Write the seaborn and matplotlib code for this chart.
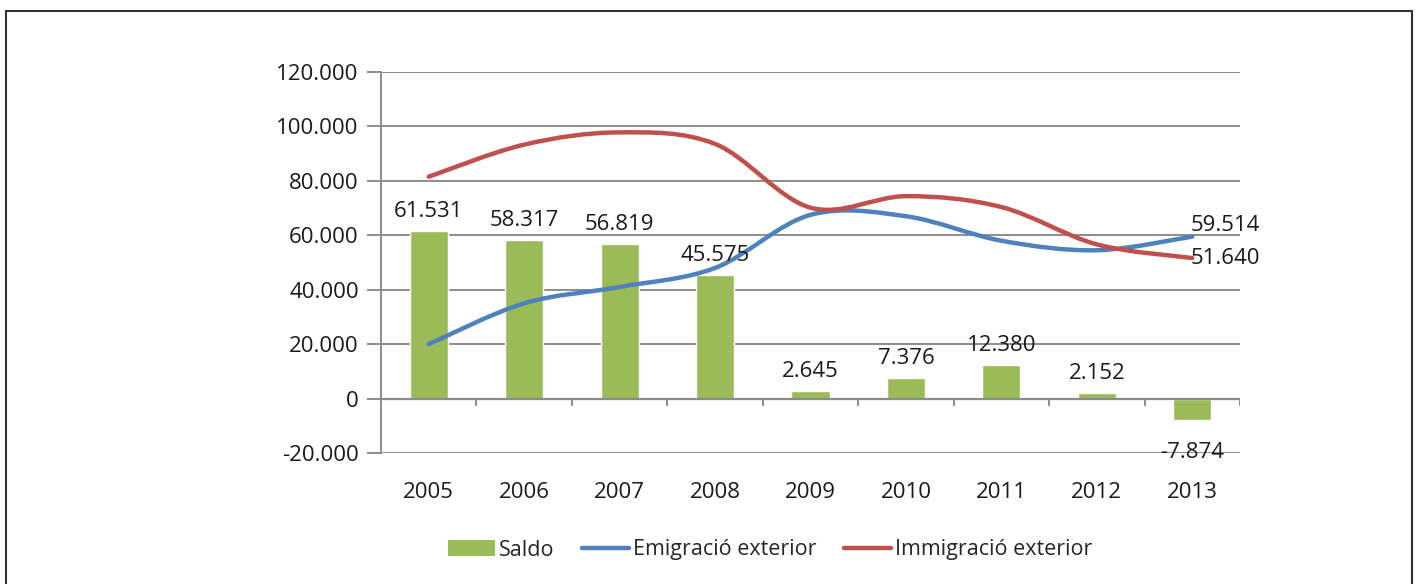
import numpy as np
import pandas as pd
import matplotlib
matplotlib.use("Agg")
import matplotlib.pyplot as plt
import seaborn as sns
from matplotlib.path import Path
from matplotlib.patches import PathPatch, Rectangle, Patch
from matplotlib.lines import Line2D
from matplotlib import font_manager

years = ["2005", "2006", "2007", "2008", "2009", "2010", "2011", "2012", "2013"]
saldo = [61531, 58317, 56819, 45575, 2645, 7376, 12380, 2152, -7874]
emigracio = [20000, 35000, 41000, 48000, 67500, 67000, 58000, 54500, 59514]
immigracio = [81531, 93317, 97819, 93575, 70145, 74376, 70380, 56652, 51640]
yticks = [-20000, 0, 20000, 40000, 60000, 80000, 100000, 120000]

GREEN = "#9BBB59"
BLUE = "#4F81BD"
RED = "#C0504D"
GRID = "#8C8C8C"

sns.set_theme(style="white")
names = {f.name for f in font_manager.fontManager.ttflist}
fam = "Liberation Sans Narrow" if "Liberation Sans Narrow" in names else "Open Sans"
plt.rcParams["font.family"] = [fam, "DejaVu Sans"]

def fmt(v):
    s = f"{abs(v):,}".replace(",", ".")
    return ("-" if v < 0 else "") + s

fig = plt.figure(figsize=(14.16, 5.84), dpi=100)
ax = fig.add_axes([381/1416, 1-453/584, (1240-381)/1416, (453-72)/584])

df = pd.DataFrame({"year": years, "saldo": saldo})
sns.barplot(data=df, x="year", y="saldo", color=GREEN, saturation=1, width=0.4, ax=ax, zorder=3)

def smooth_path(xs, ys):
    pts = np.column_stack([xs, ys]).astype(float)
    n = len(pts)
    verts = [pts[0]]
    codes = [Path.MOVETO]
    for i in range(n-1):
        p0 = pts[i-1] if i > 0 else pts[i]
        p1 = pts[i]
        p2 = pts[i+1]
        p3 = pts[i+2] if i+2 < n else pts[i+1]
        c1 = p1 + (p2 - p0) / 6.0
        c2 = p2 - (p3 - p1) / 6.0
        verts += [c1, c2, p2]
        codes += [Path.CURVE4]*3
    return Path(verts, codes)

xpos = np.arange(len(years))
for vals, col in [(emigracio, BLUE), (immigracio, RED)]:
    pp = PathPatch(smooth_path(xpos, vals), facecolor="none", edgecolor=col, lw=3.2,
                   capstyle="round", zorder=4)
    ax.add_patch(pp)

ax.set_xlim(-0.5, len(years)-0.5)
ax.set_ylim(-20000, 120000)
ax.set_yticks(yticks)
ax.set_yticklabels([fmt(v) for v in yticks], fontsize=16, color="#1a1a1a")
for v in yticks:
    ax.axhline(v, color=GRID, lw=1.4, zorder=1)
ax.axhline(0, color=GRID, lw=1.6, zorder=5)
ax.vlines(np.arange(len(years)) + 0.5, -2900, 0, color=GRID, lw=1.4, zorder=5)

ax.set_xlabel("")
ax.set_ylabel("")
ax.set_xticks(xpos)
ax.set_xticklabels(years, fontsize=16, color="#1a1a1a")
ax.tick_params(axis="x", length=0, pad=21)
ax.tick_params(axis="y", length=10, width=1.4, color=GRID, direction="out", pad=6, left=True)
for s in ["top", "right", "bottom"]:
    ax.spines[s].set_visible(False)
ax.spines["left"].set_color(GRID)
ax.spines["left"].set_linewidth(1.4)
ax.grid(False)

for i, v in enumerate(saldo):
    if v >= 0:
        ax.annotate(fmt(v), (i, v), xytext=(0, 9), textcoords="offset pixels",
                    ha="center", va="bottom", fontsize=16, color="#1a1a1a", zorder=6)
    else:
        ax.annotate(fmt(v), (i, v), xytext=(0, -22), textcoords="offset pixels",
                    ha="center", va="top", fontsize=16, color="#1a1a1a", zorder=6)

last = len(years) - 1
ax.annotate(fmt(emigracio[-1]), (last, emigracio[-1]), xytext=(-2, 11), textcoords="offset pixels",
            ha="left", va="center", fontsize=16, color="#1a1a1a", annotation_clip=False)
ax.annotate(fmt(immigracio[-1]), (last, immigracio[-1]), xytext=(-2, 0), textcoords="offset pixels",
            ha="left", va="center", fontsize=16, color="#1a1a1a", annotation_clip=False)

handles = [Patch(facecolor=GREEN, edgecolor="none"),
           Line2D([0], [0], color=BLUE, lw=3.2, solid_capstyle="round"),
           Line2D([0], [0], color=RED, lw=3.2, solid_capstyle="round")]
fig.legend(handles, ["Saldo", "Emigració exterior", "Immigració exterior"],
           loc="center", bbox_to_anchor=(770/1416, 1-550/584), ncol=3, frameon=False,
           fontsize=15.5, handlelength=2.2, handletextpad=0.15, columnspacing=1.3)

fig.add_artist(Rectangle((6/1416, -0.02), (1412-6)/1416, 0.02 + 1-11/584,
                         transform=fig.transFigure, fill=False, edgecolor="#333333", lw=1.5))

fig.savefig("out.png", dpi=100)
